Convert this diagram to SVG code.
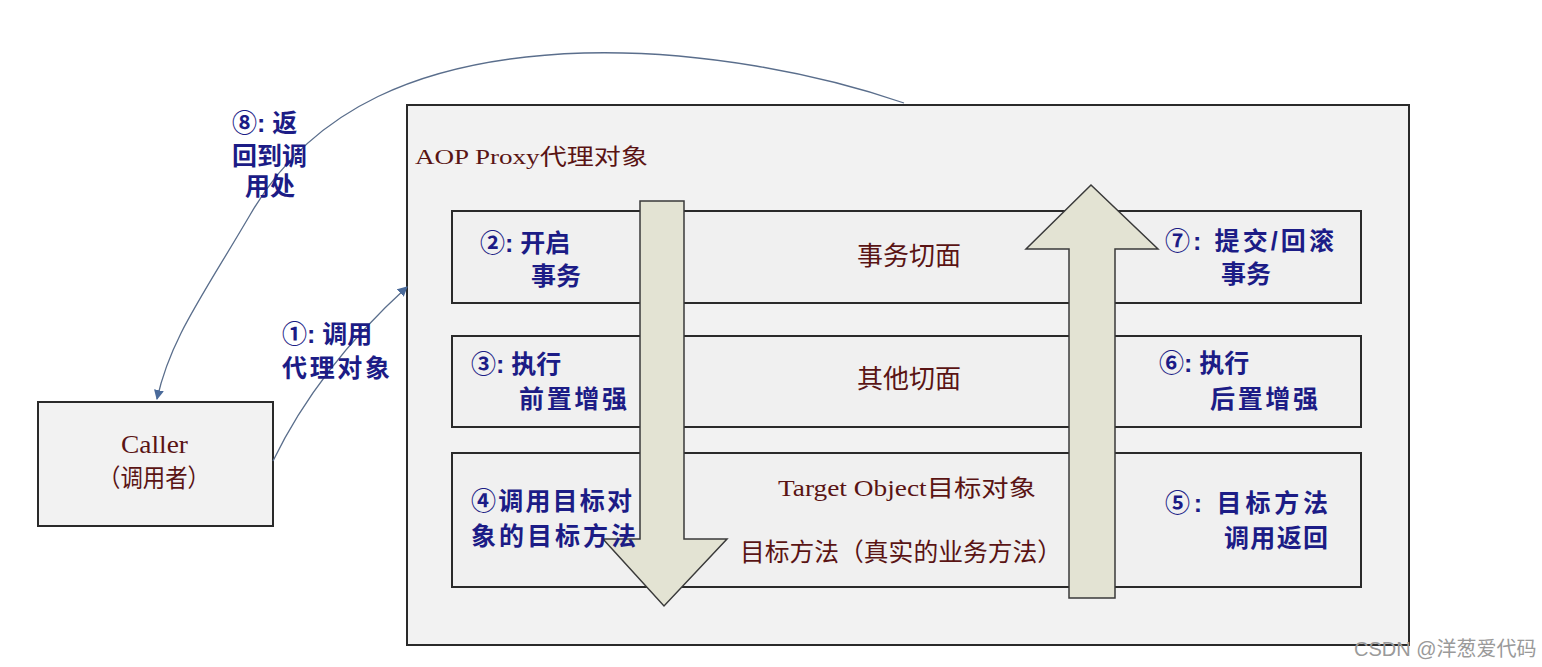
<svg xmlns="http://www.w3.org/2000/svg" width="1542" height="667" viewBox="0 0 1542 667">
<defs>
<style>
.box{fill:#f2f2f2;stroke:#2a2a2a;stroke-width:2}
.inner{fill:#f0f0f0;stroke:#2a2a2a;stroke-width:2}
.arrow{fill:#e3e3d3;stroke:#3a3a3a;stroke-width:1.5}
.red{font-family:"Liberation Serif","Noto Sans CJK SC",serif;fill:#5a1414;font-size:22px}
.blue{font-family:"Liberation Sans","Noto Sans CJK SC",sans-serif;fill:#1c1c86;font-size:25px;font-weight:bold}
.conn{fill:none;stroke:#5a6e8c;stroke-width:1.3}
.wm{font-family:"Liberation Sans","Noto Sans CJK SC",sans-serif;fill:#9a9a9a;font-size:20px}
</style>
<marker id="ah" viewBox="0 0 10 10" refX="9" refY="5" markerWidth="10" markerHeight="10" markerUnits="userSpaceOnUse" orient="auto">
<path d="M0,0 L10,5 L0,10 z" fill="#4a6a9a"/>
</marker>
</defs>
<rect width="1542" height="667" fill="#ffffff"/>

<g id="proxy">
<rect class="box" x="407" y="105" width="1002" height="540"/>
<text class="red" x="415" y="164" textLength="233" lengthAdjust="spacingAndGlyphs">AOP Proxy代理对象</text>
</g>

<g id="caller">
<rect class="box" x="38" y="402" width="235" height="124"/>
<text class="red" x="121" y="453" textLength="67" lengthAdjust="spacingAndGlyphs" style="font-size:25px">Caller</text>
<text class="red" x="98" y="487" textLength="112" lengthAdjust="spacingAndGlyphs" style="font-size:25px">（调用者）</text>
</g>

<g id="tx-aspect">
<rect class="inner" x="452" y="211" width="909" height="92"/>
<text class="red" x="909" y="265" text-anchor="middle" style="font-size:26px">事务切面</text>
</g>

<g id="other-aspect">
<rect class="inner" x="452" y="336" width="909" height="91"/>
<text class="red" x="909" y="388" text-anchor="middle" style="font-size:26px">其他切面</text>
</g>

<g id="target">
<rect class="inner" x="452" y="453" width="909" height="134"/>
<text class="red" x="778" y="496" textLength="258" lengthAdjust="spacingAndGlyphs" style="font-size:23px">Target Object目标对象</text>
<text class="red" x="740" y="561" textLength="322" lengthAdjust="spacingAndGlyphs" style="font-size:25px">目标方法（真实的业务方法）</text>
</g>

<g id="down-arrow">
<path class="arrow" d="M640,201 L684,201 L684,539 L727,539 L664,606 L603,539 L640,539 z"/>
</g>

<g id="up-arrow">
<path class="arrow" d="M1069,598 L1115,598 L1115,249 L1158,249 L1091,185 L1026,249 L1069,249 z"/>
</g>

<g id="connectors">
<path class="conn" d="M273,461 Q318,368 407,287" marker-end="url(#ah)"/>
<path class="conn" d="M904,103 C820,74 700,50 584,53 C420,58 310,110 250,215 C200,300 170,340 157,399" marker-end="url(#ah)"/>
</g>

<g id="labels">
<text class="blue" x="232" y="132">⑧: 返</text>
<text class="blue" x="232" y="165">回到调</text>
<text class="blue" x="245" y="195">用处</text>
<text class="blue" x="282" y="343">①: 调用</text>
<text class="blue" x="282" y="377" textLength="108">代理对象</text>
<text class="blue" x="480" y="252">②: 开启</text>
<text class="blue" x="531" y="285">事务</text>
<text class="blue" x="471" y="373">③: 执行</text>
<text class="blue" x="519" y="408" textLength="108">前置增强</text>
<text class="blue" x="471" y="510" textLength="161">④调用目标对</text>
<text class="blue" x="471" y="545" textLength="165">象的目标方法</text>
<text class="blue" x="1165" y="250" textLength="169">⑦: 提交/回滚</text>
<text class="blue" x="1221" y="283">事务</text>
<text class="blue" x="1159" y="372">⑥: 执行</text>
<text class="blue" x="1210" y="408" textLength="108">后置增强</text>
<text class="blue" x="1165" y="512" textLength="163">⑤: 目标方法</text>
<text class="blue" x="1224" y="547" textLength="104">调用返回</text>
</g>

<text class="wm" x="1354" y="656">CSDN @洋葱爱代码</text>
</svg>
